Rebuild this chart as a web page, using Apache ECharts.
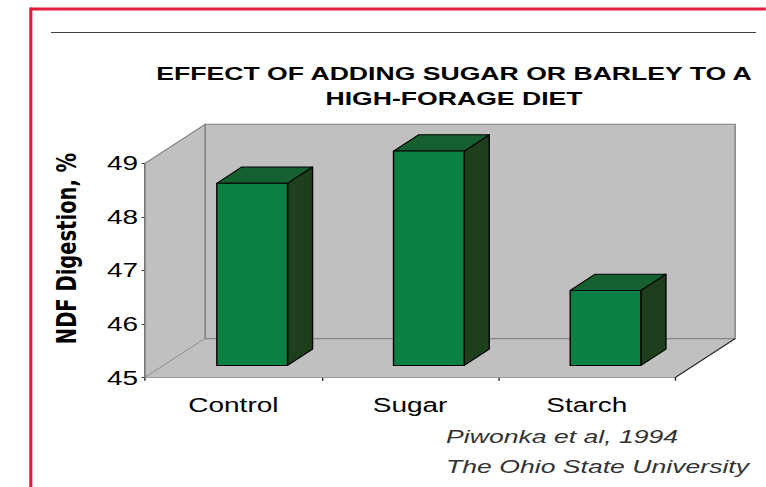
<!DOCTYPE html>
<html>
<head>
<meta charset="utf-8">
<script src="https://cdn.jsdelivr.net/npm/echarts@6/dist/echarts.min.js"></script>
<style>
  html, body { margin: 0; padding: 0; background: #ffffff; }
  #wrap { width: 766px; height: 487px; overflow: hidden; position: relative; }
  #chart { width: 547.14px; height: 487px; transform: scaleX(1.4); transform-origin: 0 0; }
</style>
</head>
<body>
<div id="wrap"><div id="chart"></div></div>
<script>
// ---- data ----
const categories = ['Control', 'Sugar', 'Starch'];
const ndfDigestion = [48.4, 49.0, 46.4];
const yMin = 45;
const yMax = 49;
const yStep = 1;
const titleText = 'EFFECT OF ADDING SUGAR OR BARLEY TO A\nHIGH-FORAGE DIET';
const yAxisTitle = 'NDF Digestion, %';
const sourceText = 'Piwonka et al, 1994\nThe Ohio State University';

// ---- styling (inner, un-stretched coordinates) ----
const DX = 42.9, DY = -39;        // depth offset of the 3D box
const F0 = 0.313, F1 = 0.73;      // bar depth range (fraction of box depth)
const BAR_FRAC = 0.4;             // bar width as a fraction of the band
const FONT = 'Liberation Sans, Arial, Helvetica, sans-serif';

const chart = echarts.init(document.getElementById('chart'), null, { renderer: 'svg' });

function renderWalls(params, api) {
  const cs = params.coordSys;
  const x = cs.x, y = cs.y, w = cs.width, h = cs.height;
  const wallStyle = { fill: '#c0c0c0', stroke: '#808080', lineWidth: 1 };
  return {
    type: 'group',
    children: [
      { type: 'polygon', shape: { points: [[x + DX, y + DY], [x + w + DX, y + DY], [x + w + DX, y + h + DY], [x + DX, y + h + DY]] }, style: wallStyle },
      { type: 'polygon', shape: { points: [[x, y], [x + DX, y + DY], [x + DX, y + h + DY], [x, y + h]] }, style: wallStyle },
      { type: 'polygon', shape: { points: [[x, y + h], [x + w, y + h], [x + w + DX, y + h + DY], [x + DX, y + h + DY]] }, style: { fill: '#c0c0c0', stroke: null } },
      { type: 'line', shape: { x1: x + DX, y1: y + h + DY, x2: x + w + DX, y2: y + h + DY }, style: { stroke: '#808080', lineWidth: 1 } },
      { type: 'line', shape: { x1: x + w, y1: y + h, x2: x + w + DX, y2: y + h + DY }, style: { stroke: '#202020', lineWidth: 1 } }
    ]
  };
}

function renderBar(params, api) {
  const idx = api.value(0);
  const val = api.value(1);
  const top = api.coord([idx, val]);
  const base = api.coord([idx, yMin]);
  const band = api.size([1, 0])[0];
  const bw = band * BAR_FRAC;
  const L = top[0] - bw / 2, R = top[0] + bw / 2;
  const T = top[1], B = base[1];
  const ax = F0 * DX, ay = F0 * DY, bx = F1 * DX, by = F1 * DY;
  const edge = { stroke: '#000000', lineWidth: 1, lineJoin: 'round' };
  return {
    type: 'group',
    children: [
      { type: 'polygon', shape: { points: [[R + ax, T + ay], [R + bx, T + by], [R + bx, B + by], [R + ax, B + ay]] }, style: Object.assign({ fill: '#1d3f1c' }, edge) },
      { type: 'polygon', shape: { points: [[L + ax, T + ay], [R + ax, T + ay], [R + bx, T + by], [L + bx, T + by]] }, style: Object.assign({ fill: '#165f30' }, edge) },
      { type: 'polygon', shape: { points: [[L + ax, T + ay], [R + ax, T + ay], [R + ax, B + ay], [L + ax, B + ay]] }, style: Object.assign({ fill: '#0a8043' }, edge) }
    ]
  };
}

const option = {
  backgroundColor: '#ffffff',
  animation: false,
  title: {
    text: titleText,
    left: 319.3,
    top: 56,
    textAlign: 'center',
    textStyle: { fontFamily: FONT, fontSize: 19, fontWeight: 'bold', color: '#000000', lineHeight: 25 }
  },
  grid: { left: 103.6, top: 163.3, width: 378.6, height: 214.4, containLabel: false },
  xAxis: {
    type: 'category',
    data: categories,
    boundaryGap: true,
    axisLine: { show: true, lineStyle: { color: '#202020', width: 1 } },
    axisTick: { show: true, length: 3, alignWithLabel: false, lineStyle: { color: '#202020' } },
    axisLabel: { fontFamily: FONT, fontSize: 20, color: '#000000', margin: 17 },
    splitLine: { show: false }
  },
  yAxis: {
    type: 'value',
    min: yMin,
    max: yMax,
    interval: yStep,
    axisLine: { show: true, lineStyle: { color: '#404040', width: 1 } },
    axisTick: { show: true, length: 2.5, lineStyle: { color: '#404040' } },
    axisLabel: { fontFamily: FONT, fontSize: 20, color: '#000000', margin: 5 },
    splitLine: { show: false },
    name: yAxisTitle,
    nameLocation: 'middle',
    nameRotate: 90,
    nameGap: 46,
    nameTextStyle: { fontFamily: 'DejaVu Sans, sans-serif', fontSize: 19.5, fontWeight: 'bold', color: '#000000', padding: [0, 0, 0, 44] }
  },
  series: [
    { type: 'custom', name: 'walls', data: [[0, yMin]], renderItem: renderWalls, z: 1, silent: true, clip: false },
    { type: 'custom', name: 'NDF digestion', data: categories.map((c, i) => [i, ndfDigestion[i]]), renderItem: renderBar, z: 3, clip: false }
  ],
  graphic: [
    { type: 'line', shape: { x1: 22, y1: 9, x2: 547.2, y2: 9 }, style: { stroke: '#e31c3d', lineWidth: 3 }, z: 10 },
    { type: 'line', shape: { x1: 22, y1: 7.5, x2: 22, y2: 487 }, style: { stroke: '#e31c3d', lineWidth: 2.2 }, z: 10 },
    { type: 'line', shape: { x1: 36.4, y1: 32.5, x2: 540, y2: 32.5 }, style: { stroke: '#404040', lineWidth: 1 }, z: 10 },
    { type: 'text', left: 318.6, top: 421, style: { text: sourceText, fontFamily: FONT, fontSize: 19, fontStyle: 'italic', fill: '#333333', lineHeight: 30 }, z: 10 }
  ]
};

chart.setOption(option);
</script>
</body>
</html>
